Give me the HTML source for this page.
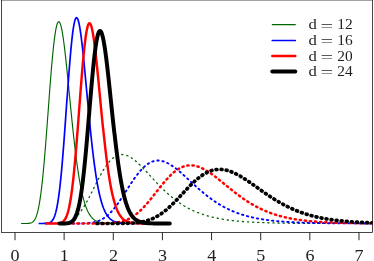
<!DOCTYPE html>
<html><head><meta charset="utf-8"><style>
html,body{margin:0;padding:0;background:#fff;}
svg{display:block;}
text{font-family:"Liberation Serif",serif;font-size:15.7px;fill:#1e1e1e;}
text.lg{font-size:15.4px;}
</style></head><body>
<svg width="374" height="261" viewBox="0 0 374 261">
<rect width="374" height="261" fill="#fff"/>
<defs><clipPath id="cp"><rect x="1.5" y="0" width="371" height="232.3"/></clipPath></defs>
<g clip-path="url(#cp)">
<path d="M21.5,223.50 L22.0,223.50 L22.5,223.50 L23.0,223.50 L23.5,223.50 L24.0,223.50 L24.5,223.50 L25.0,223.50 L25.5,223.49 L26.0,223.49 L26.5,223.48 L27.0,223.47 L27.5,223.45 L28.0,223.42 L28.5,223.39 L29.0,223.34 L29.5,223.27 L30.0,223.18 L30.5,223.06 L31.0,222.91 L31.5,222.71 L32.0,222.46 L32.5,222.14 L33.0,221.75 L33.5,221.26 L34.0,220.68 L34.5,219.97 L35.0,219.13 L35.5,218.14 L36.0,216.97 L36.5,215.63 L37.0,214.07 L37.5,212.30 L38.0,210.29 L38.5,208.02 L39.0,205.49 L39.5,202.67 L40.0,199.57 L40.5,196.17 L41.0,192.47 L41.5,188.45 L42.0,184.14 L42.5,179.52 L43.0,174.61 L43.5,169.41 L44.0,163.94 L44.5,158.22 L45.0,152.27 L45.5,146.11 L46.0,139.78 L46.5,133.29 L47.0,126.68 L47.5,119.99 L48.0,113.24 L48.5,106.49 L49.0,99.77 L49.5,93.11 L50.0,86.55 L50.5,80.14 L51.0,73.91 L51.5,67.89 L52.0,62.13 L52.5,56.65 L53.0,51.49 L53.5,46.68 L54.0,42.24 L54.5,38.19 L55.0,34.56 L55.5,31.35 L56.0,28.59 L56.5,26.29 L57.0,24.45 L57.5,23.07 L58.0,22.16 L58.5,21.71 L59.0,21.71 L59.5,22.16 L60.0,23.05 L60.5,24.36 L61.0,26.07 L61.5,28.18 L62.0,30.65 L62.5,33.46 L63.0,36.60 L63.5,40.04 L64.0,43.76 L64.5,47.73 L65.0,51.92 L65.5,56.31 L66.0,60.88 L66.5,65.59 L67.0,70.43 L67.5,75.37 L68.0,80.38 L68.5,85.46 L69.0,90.56 L69.5,95.68 L70.0,100.79 L70.5,105.88 L71.0,110.92 L71.5,115.91 L72.0,120.83 L72.5,125.67 L73.0,130.41 L73.5,135.04 L74.0,139.56 L74.5,143.96 L75.0,148.23 L75.5,152.36 L76.0,156.36 L76.5,160.21 L77.0,163.92 L77.5,167.48 L78.0,170.90 L78.5,174.16 L79.0,177.29 L79.5,180.26 L80.0,183.09 L80.5,185.78 L81.0,188.33 L81.5,190.75 L82.0,193.03 L82.5,195.19 L83.0,197.22 L83.5,199.14 L84.0,200.94 L84.5,202.62 L85.0,204.21 L85.5,205.69 L86.0,207.07 L86.5,208.36 L87.0,209.57 L87.5,210.69 L88.0,211.73 L88.5,212.70 L89.0,213.60 L89.5,214.43 L90.0,215.20 L90.5,215.91 L91.0,216.57 L91.5,217.18 L92.0,217.74 L92.5,218.25 L93.0,218.72 L93.5,219.16 L94.0,219.55 L94.5,219.92 L95.0,220.25 L95.5,220.56 L96.0,220.83 L96.5,221.09 L97.0,221.32 L97.5,221.53 L98.0,221.72 L98.5,221.90 L99.0,222.06 L99.5,222.20 L100.0,222.33 L100.5,222.45 L101.0,222.56 L101.5,222.65 L102.0,222.74 L102.5,222.82 L103.0,222.89 L103.5,222.95 L104.0,223.01 L104.5,223.06 L105.0,223.11 L105.5,223.15 L106.0,223.19 L106.5,223.22 L107.0,223.25 L107.5,223.28 L108.0,223.31 L108.5,223.33 L109.0,223.35 L109.5,223.36 L110.0,223.38 L110.5,223.39 L111.0,223.41 L111.5,223.42 L112.0,223.43 L112.5,223.43 L113.0,223.44 L113.5,223.45 L114.0,223.46 L114.5,223.46 L115.0,223.47 L115.5,223.47 L116.0,223.47 L116.5,223.48 L117.0,223.48 L117.5,223.48 L118.0,223.48 L118.5,223.49 L119.0,223.49 L119.5,223.49 L120.0,223.49 L120.5,223.49 L121.0,223.49 L121.5,223.49 L122.0,223.49 L122.5,223.50 L123.0,223.50 L123.5,223.50 L124.0,223.50 L124.5,223.50 L125.0,223.50 L125.5,223.50 L126.0,223.50 L126.5,223.50 L127.0,223.50 L127.5,223.50 L128.0,223.50 L128.5,223.50 L129.0,223.50 L129.5,223.50 L130.0,223.50" stroke="#006400" stroke-width="1.15" fill="none" stroke-linejoin="round" stroke-linecap="round"/>
<path d="M45.0,223.50 L45.5,223.50 L46.0,223.50 L46.5,223.50 L47.0,223.50 L47.5,223.50 L48.0,223.50 L48.5,223.50 L49.0,223.50 L49.5,223.50 L50.0,223.50 L50.5,223.50 L51.0,223.50 L51.5,223.49 L52.0,223.49 L52.5,223.49 L53.0,223.49 L53.5,223.48 L54.0,223.48 L54.5,223.47 L55.0,223.47 L55.5,223.46 L56.0,223.45 L56.5,223.44 L57.0,223.43 L57.5,223.42 L58.0,223.40 L58.5,223.38 L59.0,223.36 L59.5,223.33 L60.0,223.30 L60.5,223.27 L61.0,223.23 L61.5,223.18 L62.0,223.13 L62.5,223.08 L63.0,223.02 L63.5,222.95 L64.0,222.87 L64.5,222.78 L65.0,222.69 L65.5,222.58 L66.0,222.47 L66.5,222.34 L67.0,222.20 L67.5,222.05 L68.0,221.88 L68.5,221.70 L69.0,221.51 L69.5,221.30 L70.0,221.08 L70.5,220.84 L71.0,220.58 L71.5,220.30 L72.0,220.01 L72.5,219.69 L73.0,219.36 L73.5,219.01 L74.0,218.63 L74.5,218.24 L75.0,217.82 L75.5,217.39 L76.0,216.93 L76.5,216.45 L77.0,215.94 L77.5,215.42 L78.0,214.87 L78.5,214.30 L79.0,213.71 L79.5,213.09 L80.0,212.45 L80.5,211.79 L81.0,211.11 L81.5,210.41 L82.0,209.68 L82.5,208.94 L83.0,208.18 L83.5,207.39 L84.0,206.59 L84.5,205.77 L85.0,204.93 L85.5,204.07 L86.0,203.20 L86.5,202.31 L87.0,201.41 L87.5,200.49 L88.0,199.56 L88.5,198.62 L89.0,197.67 L89.5,196.70 L90.0,195.73 L90.5,194.75 L91.0,193.77 L91.5,192.77 L92.0,191.78 L92.5,190.78 L93.0,189.77 L93.5,188.77 L94.0,187.76 L94.5,186.75 L95.0,185.75 L95.5,184.75 L96.0,183.75 L96.5,182.76 L97.0,181.77 L97.5,180.79 L98.0,179.82 L98.5,178.85 L99.0,177.90 L99.5,176.95 L100.0,176.02 L100.5,175.10 L101.0,174.19 L101.5,173.30 L102.0,172.42 L102.5,171.56 L103.0,170.71 L103.5,169.88 L104.0,169.07 L104.5,168.28 L105.0,167.50 L105.5,166.75 L106.0,166.01 L106.5,165.30 L107.0,164.60 L107.5,163.93 L108.0,163.28 L108.5,162.65 L109.0,162.05 L109.5,161.46 L110.0,160.90 L110.5,160.37 L111.0,159.85 L111.5,159.36 L112.0,158.90 L112.5,158.45 L113.0,158.03 L113.5,157.64 L114.0,157.27 L114.5,156.92 L115.0,156.60 L115.5,156.30 L116.0,156.02 L116.5,155.77 L117.0,155.54 L117.5,155.34 L118.0,155.16 L118.5,155.00 L119.0,154.86 L119.5,154.75 L120.0,154.66 L120.5,154.59 L121.0,154.54 L121.5,154.52 L122.0,154.51 L122.5,154.53 L123.0,154.56 L123.5,154.62 L124.0,154.69 L124.5,154.79 L125.0,154.90 L125.5,155.04 L126.0,155.19 L126.5,155.36 L127.0,155.54 L127.5,155.74 L128.0,155.96 L128.5,156.20 L129.0,156.45 L129.5,156.72 L130.0,157.00 L130.5,157.29 L131.0,157.60 L131.5,157.92 L132.0,158.26 L132.5,158.61 L133.0,158.97 L133.5,159.34 L134.0,159.72 L134.5,160.12 L135.0,160.52 L135.5,160.93 L136.0,161.36 L136.5,161.79 L137.0,162.23 L137.5,162.68 L138.0,163.14 L138.5,163.61 L139.0,164.08 L139.5,164.56 L140.0,165.05 L140.5,165.54 L141.0,166.04 L141.5,166.54 L142.0,167.05 L142.5,167.56 L143.0,168.08 L143.5,168.60 L144.0,169.12 L144.5,169.65 L145.0,170.18 L145.5,170.71 L146.0,171.25 L146.5,171.79 L147.0,172.32 L147.5,172.87 L148.0,173.41 L148.5,173.95 L149.0,174.49 L149.5,175.04 L150.0,175.58 L150.5,176.13 L151.0,176.67 L151.5,177.22 L152.0,177.76 L152.5,178.30 L153.0,178.84 L153.5,179.38 L154.0,179.92 L154.5,180.46 L155.0,180.99 L155.5,181.53 L156.0,182.06 L156.5,182.59 L157.0,183.11 L157.5,183.64 L158.0,184.16 L158.5,184.68 L159.0,185.19 L159.5,185.71 L160.0,186.21 L160.5,186.72 L161.0,187.22 L161.5,187.72 L162.0,188.22 L162.5,188.71 L163.0,189.20 L163.5,189.68 L164.0,190.16 L164.5,190.64 L165.0,191.11 L165.5,191.58 L166.0,192.04 L166.5,192.50 L167.0,192.96 L167.5,193.41 L168.0,193.86 L168.5,194.30 L169.0,194.74 L169.5,195.17 L170.0,195.60 L170.5,196.02 L171.0,196.44 L171.5,196.86 L172.0,197.27 L172.5,197.68 L173.0,198.08 L173.5,198.48 L174.0,198.87 L174.5,199.26 L175.0,199.64 L175.5,200.02 L176.0,200.40 L176.5,200.77 L177.0,201.13 L177.5,201.49 L178.0,201.85 L178.5,202.20 L179.0,202.55 L179.5,202.89 L180.0,203.23 L180.5,203.56 L181.0,203.89 L181.5,204.22 L182.0,204.54 L182.5,204.85 L183.0,205.16 L183.5,205.47 L184.0,205.78 L184.5,206.07 L185.0,206.37 L185.5,206.66 L186.0,206.95 L186.5,207.23 L187.0,207.51 L187.5,207.78 L188.0,208.05 L188.5,208.32 L189.0,208.58 L189.5,208.84 L190.0,209.09 L190.5,209.34 L191.0,209.59 L191.5,209.83 L192.0,210.07 L192.5,210.31 L193.0,210.54 L193.5,210.77 L194.0,210.99 L194.5,211.22 L195.0,211.43 L195.5,211.65 L196.0,211.86 L196.5,212.07 L197.0,212.27 L197.5,212.47 L198.0,212.67 L198.5,212.86 L199.0,213.06 L199.5,213.24 L200.0,213.43 L200.5,213.61 L201.0,213.79 L201.5,213.97 L202.0,214.14 L202.5,214.31 L203.0,214.48 L203.5,214.64 L204.0,214.80 L204.5,214.96 L205.0,215.12 L205.5,215.27 L206.0,215.43 L206.5,215.57 L207.0,215.72 L207.5,215.86 L208.0,216.00 L208.5,216.14 L209.0,216.28 L209.5,216.41 L210.0,216.55 L210.5,216.67 L211.0,216.80 L211.5,216.93 L212.0,217.05 L212.5,217.17 L213.0,217.29 L213.5,217.40 L214.0,217.52 L214.5,217.63 L215.0,217.74 L215.5,217.85 L216.0,217.96 L216.5,218.06 L217.0,218.16 L217.5,218.26 L218.0,218.36 L218.5,218.46 L219.0,218.55 L219.5,218.65 L220.0,218.74 L220.5,218.83 L221.0,218.92 L221.5,219.01 L222.0,219.09 L222.5,219.17 L223.0,219.26 L223.5,219.34 L224.0,219.42 L224.5,219.50 L225.0,219.57 L225.5,219.65 L226.0,219.72 L226.5,219.79 L227.0,219.86 L227.5,219.93 L228.0,220.00 L228.5,220.07 L229.0,220.13 L229.5,220.20 L230.0,220.26 L230.5,220.32 L231.0,220.39 L231.5,220.44 L232.0,220.50 L232.5,220.56 L233.0,220.62 L233.5,220.67 L234.0,220.73 L234.5,220.78 L235.0,220.83 L235.5,220.89 L236.0,220.94 L236.5,220.99 L237.0,221.03 L237.5,221.08 L238.0,221.13 L238.5,221.17 L239.0,221.22 L239.5,221.26 L240.0,221.31 L240.5,221.35 L241.0,221.39 L241.5,221.43 L242.0,221.47 L242.5,221.51 L243.0,221.55 L243.5,221.59 L244.0,221.62 L244.5,221.66 L245.0,221.70 L245.5,221.73 L246.0,221.77 L246.5,221.80 L247.0,221.83 L247.5,221.86 L248.0,221.90 L248.5,221.93 L249.0,221.96 L249.5,221.99 L250.0,222.02 L250.5,222.05 L251.0,222.07 L251.5,222.10 L252.0,222.13 L252.5,222.16 L253.0,222.18 L253.5,222.21 L254.0,222.23 L254.5,222.26 L255.0,222.28 L255.5,222.31 L256.0,222.33 L256.5,222.35 L257.0,222.37 L257.5,222.40 L258.0,222.42 L258.5,222.44 L259.0,222.46 L259.5,222.48 L260.0,222.50 L260.5,222.52 L261.0,222.54 L261.5,222.56 L262.0,222.57 L262.5,222.59 L263.0,222.61 L263.5,222.63 L264.0,222.64 L264.5,222.66 L265.0,222.68 L265.5,222.69 L266.0,222.71 L266.5,222.72 L267.0,222.74 L267.5,222.75 L268.0,222.77 L268.5,222.78 L269.0,222.80 L269.5,222.81 L270.0,222.82 L270.5,222.84 L271.0,222.85 L271.5,222.86 L272.0,222.88 L272.5,222.89 L273.0,222.90 L273.5,222.91 L274.0,222.92 L274.5,222.93 L275.0,222.94 L275.5,222.96 L276.0,222.97 L276.5,222.98 L277.0,222.99 L277.5,223.00 L278.0,223.01 L278.5,223.02 L279.0,223.03 L279.5,223.03 L280.0,223.04 L280.5,223.05 L281.0,223.06 L281.5,223.07 L282.0,223.08 L282.5,223.09 L283.0,223.09 L283.5,223.10 L284.0,223.11 L284.5,223.12 L285.0,223.12 L285.5,223.13 L286.0,223.14 L286.5,223.15 L287.0,223.15 L287.5,223.16 L288.0,223.17 L288.5,223.17 L289.0,223.18 L289.5,223.19 L290.0,223.19 L290.5,223.20 L291.0,223.20 L291.5,223.21 L292.0,223.21 L292.5,223.22 L293.0,223.23 L293.5,223.23 L294.0,223.24 L294.5,223.24 L295.0,223.25 L295.5,223.25 L296.0,223.26 L296.5,223.26 L297.0,223.26 L297.5,223.27 L298.0,223.27 L298.5,223.28 L299.0,223.28 L299.5,223.29 L300.0,223.29 L300.5,223.29 L301.0,223.30 L301.5,223.30 L302.0,223.31 L302.5,223.31 L303.0,223.31 L303.5,223.32 L304.0,223.32 L304.5,223.32 L305.0,223.33 L305.5,223.33 L306.0,223.33 L306.5,223.34 L307.0,223.34 L307.5,223.34 L308.0,223.35 L308.5,223.35 L309.0,223.35 L309.5,223.35 L310.0,223.36 L310.5,223.36 L311.0,223.36 L311.5,223.37 L312.0,223.37 L312.5,223.37 L313.0,223.37 L313.5,223.38 L314.0,223.38 L314.5,223.38 L315.0,223.38 L315.5,223.38 L316.0,223.39 L316.5,223.39 L317.0,223.39 L317.5,223.39 L318.0,223.40 L318.5,223.40 L319.0,223.40 L319.5,223.40 L320.0,223.40 L320.5,223.40 L321.0,223.41 L321.5,223.41 L322.0,223.41 L322.5,223.41 L323.0,223.41 L323.5,223.42 L324.0,223.42 L324.5,223.42 L325.0,223.42 L325.5,223.42 L326.0,223.42 L326.5,223.42 L327.0,223.43 L327.5,223.43 L328.0,223.43 L328.5,223.43 L329.0,223.43 L329.5,223.43 L330.0,223.43 L330.5,223.43 L331.0,223.44 L331.5,223.44 L332.0,223.44 L332.5,223.44 L333.0,223.44 L333.5,223.44 L334.0,223.44 L334.5,223.44 L335.0,223.45 L335.5,223.45 L336.0,223.45 L336.5,223.45 L337.0,223.45 L337.5,223.45 L338.0,223.45 L338.5,223.45 L339.0,223.45 L339.5,223.45 L340.0,223.45 L340.5,223.46 L341.0,223.46 L341.5,223.46 L342.0,223.46 L342.5,223.46 L343.0,223.46 L343.5,223.46 L344.0,223.46 L344.5,223.46 L345.0,223.46 L345.5,223.46 L346.0,223.46 L346.5,223.46 L347.0,223.47 L347.5,223.47 L348.0,223.47 L348.5,223.47 L349.0,223.47 L349.5,223.47 L350.0,223.47 L350.5,223.47 L351.0,223.47 L351.5,223.47 L352.0,223.47 L352.5,223.47 L353.0,223.47 L353.5,223.47 L354.0,223.47 L354.5,223.47 L355.0,223.47 L355.5,223.47 L356.0,223.47 L356.5,223.48 L357.0,223.48 L357.5,223.48 L358.0,223.48 L358.5,223.48 L359.0,223.48 L359.5,223.48 L360.0,223.48 L360.5,223.48 L361.0,223.48 L361.5,223.48 L362.0,223.48 L362.5,223.48 L363.0,223.48 L363.5,223.48 L364.0,223.48 L364.5,223.48 L365.0,223.48 L365.5,223.48 L366.0,223.48 L366.5,223.48 L367.0,223.48 L367.5,223.48 L368.0,223.48 L368.5,223.48 L369.0,223.48 L369.5,223.48 L370.0,223.49 L370.5,223.49 L371.0,223.49 L371.5,223.49 L372.0,223.49 L372.5,223.49 L373.0,223.49 L373.5,223.49 L374.0,223.49" stroke="#006400" stroke-width="1.3" fill="none" stroke-dasharray="1.2 3.8999999999999995" stroke-linecap="round"/>
<path d="M39.3,223.50 L39.8,223.50 L40.3,223.50 L40.8,223.50 L41.3,223.50 L41.8,223.50 L42.3,223.50 L42.8,223.49 L43.3,223.49 L43.8,223.48 L44.3,223.47 L44.8,223.46 L45.3,223.45 L45.8,223.42 L46.3,223.39 L46.8,223.35 L47.3,223.29 L47.8,223.21 L48.3,223.12 L48.8,222.99 L49.3,222.82 L49.8,222.61 L50.3,222.35 L50.8,222.03 L51.3,221.63 L51.8,221.14 L52.3,220.55 L52.8,219.84 L53.3,219.00 L53.8,218.01 L54.3,216.84 L54.8,215.49 L55.3,213.93 L55.8,212.14 L56.3,210.11 L56.8,207.81 L57.3,205.24 L57.8,202.37 L58.3,199.20 L58.8,195.70 L59.3,191.89 L59.8,187.74 L60.3,183.26 L60.8,178.46 L61.3,173.33 L61.8,167.89 L62.3,162.16 L62.8,156.14 L63.3,149.87 L63.8,143.38 L64.3,136.68 L64.8,129.82 L65.3,122.83 L65.8,115.75 L66.3,108.62 L66.8,101.49 L67.4,94.40 L67.9,87.39 L68.4,80.51 L68.9,73.81 L69.4,67.32 L69.9,61.10 L70.4,55.17 L70.9,49.58 L71.4,44.36 L71.9,39.54 L72.4,35.15 L72.9,31.22 L73.4,27.77 L73.9,24.81 L74.4,22.35 L74.9,20.41 L75.4,18.98 L75.9,18.07 L76.4,17.68 L76.9,17.78 L77.4,18.39 L77.9,19.47 L78.4,21.02 L78.9,23.00 L79.4,25.41 L79.9,28.22 L80.4,31.40 L80.9,34.92 L81.4,38.75 L81.9,42.88 L82.4,47.26 L82.9,51.86 L83.4,56.66 L83.9,61.63 L84.4,66.74 L84.9,71.96 L85.4,77.27 L85.9,82.63 L86.4,88.03 L86.9,93.44 L87.4,98.83 L87.9,104.20 L88.4,109.51 L88.9,114.76 L89.4,119.92 L89.9,124.99 L90.4,129.94 L90.9,134.77 L91.4,139.48 L91.9,144.04 L92.4,148.46 L92.9,152.73 L93.4,156.85 L93.9,160.81 L94.4,164.61 L94.9,168.24 L95.4,171.72 L95.9,175.04 L96.4,178.20 L96.9,181.20 L97.4,184.05 L97.9,186.75 L98.4,189.30 L98.9,191.71 L99.4,193.99 L99.9,196.12 L100.4,198.14 L100.9,200.02 L101.4,201.79 L101.9,203.45 L102.4,205.00 L102.9,206.44 L103.4,207.79 L103.9,209.04 L104.4,210.21 L104.9,211.29 L105.4,212.30 L105.9,213.23 L106.4,214.09 L106.9,214.89 L107.4,215.62 L107.9,216.30 L108.4,216.93 L108.9,217.51 L109.4,218.04 L109.9,218.52 L110.4,218.97 L110.9,219.38 L111.4,219.76 L111.9,220.10 L112.4,220.41 L112.9,220.70 L113.4,220.96 L113.9,221.20 L114.4,221.42 L114.9,221.62 L115.4,221.80 L115.9,221.97 L116.4,222.12 L116.9,222.25 L117.4,222.37 L117.9,222.49 L118.4,222.59 L118.9,222.68 L119.4,222.76 L119.9,222.84 L120.4,222.90 L120.9,222.96 L121.4,223.02 L121.9,223.07 L122.5,223.11 L123.0,223.15 L123.5,223.19 L124.0,223.22 L124.5,223.25 L125.0,223.28 L125.5,223.30 L126.0,223.32 L126.5,223.34 L127.0,223.36 L127.5,223.37 L128.0,223.39 L128.5,223.40 L129.0,223.41 L129.5,223.42 L130.0,223.43 L130.5,223.44 L131.0,223.44 L131.5,223.45 L132.0,223.46 L132.5,223.46 L133.0,223.47 L133.5,223.47 L134.0,223.47 L134.5,223.48 L135.0,223.48 L135.5,223.48 L136.0,223.48 L136.5,223.49 L137.0,223.49 L137.5,223.49 L138.0,223.49 L138.5,223.49 L139.0,223.49 L139.5,223.49 L140.0,223.49 L140.5,223.49 L141.0,223.50 L141.5,223.50 L142.0,223.50 L142.5,223.50 L143.0,223.50 L143.5,223.50 L144.0,223.50 L144.5,223.50 L145.0,223.50 L145.5,223.50 L146.0,223.50 L146.5,223.50 L147.0,223.50 L147.5,223.50 L148.0,223.50 L148.5,223.50 L149.0,223.50 L149.5,223.50 L150.0,223.50" stroke="#0000ff" stroke-width="1.7" fill="none" stroke-linejoin="round" stroke-linecap="round"/>
<path d="M57.8,223.50 L58.3,223.50 L58.8,223.50 L59.3,223.50 L59.8,223.50 L60.3,223.50 L60.8,223.50 L61.3,223.50 L61.8,223.50 L62.3,223.50 L62.8,223.50 L63.3,223.50 L63.8,223.50 L64.3,223.50 L64.8,223.50 L65.3,223.50 L65.8,223.50 L66.3,223.50 L66.8,223.50 L67.3,223.50 L67.8,223.50 L68.3,223.50 L68.8,223.50 L69.3,223.50 L69.8,223.50 L70.3,223.50 L70.8,223.50 L71.3,223.50 L71.8,223.50 L72.3,223.50 L72.8,223.50 L73.3,223.50 L73.8,223.49 L74.3,223.49 L74.8,223.49 L75.3,223.49 L75.8,223.49 L76.3,223.49 L76.8,223.48 L77.3,223.48 L77.8,223.48 L78.3,223.47 L78.8,223.47 L79.3,223.46 L79.8,223.46 L80.3,223.45 L80.8,223.44 L81.3,223.43 L81.8,223.42 L82.3,223.41 L82.8,223.40 L83.3,223.38 L83.8,223.37 L84.3,223.35 L84.8,223.33 L85.3,223.30 L85.8,223.28 L86.3,223.25 L86.8,223.22 L87.3,223.18 L87.8,223.14 L88.3,223.10 L88.8,223.06 L89.3,223.01 L89.8,222.95 L90.3,222.89 L90.8,222.83 L91.3,222.76 L91.8,222.68 L92.3,222.60 L92.8,222.51 L93.3,222.41 L93.8,222.31 L94.3,222.20 L94.8,222.08 L95.3,221.96 L95.8,221.82 L96.3,221.68 L96.8,221.52 L97.3,221.36 L97.8,221.19 L98.3,221.00 L98.8,220.81 L99.3,220.61 L99.8,220.39 L100.3,220.16 L100.8,219.92 L101.3,219.67 L101.8,219.40 L102.3,219.13 L102.8,218.84 L103.3,218.53 L103.8,218.21 L104.3,217.88 L104.8,217.54 L105.3,217.18 L105.8,216.81 L106.3,216.42 L106.8,216.02 L107.3,215.60 L107.8,215.17 L108.3,214.72 L108.8,214.26 L109.3,213.79 L109.8,213.30 L110.3,212.80 L110.8,212.28 L111.3,211.75 L111.8,211.20 L112.3,210.64 L112.8,210.07 L113.3,209.48 L113.8,208.88 L114.3,208.27 L114.8,207.65 L115.3,207.01 L115.8,206.36 L116.3,205.70 L116.8,205.03 L117.3,204.35 L117.8,203.65 L118.3,202.95 L118.8,202.24 L119.3,201.52 L119.8,200.79 L120.3,200.05 L120.8,199.31 L121.3,198.55 L121.8,197.80 L122.3,197.03 L122.8,196.26 L123.3,195.49 L123.8,194.71 L124.3,193.93 L124.8,193.15 L125.3,192.37 L125.8,191.58 L126.3,190.79 L126.8,190.00 L127.3,189.22 L127.8,188.43 L128.3,187.64 L128.8,186.86 L129.3,186.08 L129.8,185.31 L130.3,184.53 L130.8,183.76 L131.3,183.00 L131.8,182.25 L132.3,181.49 L132.8,180.75 L133.3,180.02 L133.8,179.29 L134.3,178.57 L134.8,177.86 L135.3,177.16 L135.8,176.47 L136.3,175.79 L136.8,175.12 L137.4,174.46 L137.9,173.81 L138.4,173.18 L138.9,172.56 L139.4,171.95 L139.9,171.35 L140.4,170.77 L140.9,170.21 L141.4,169.65 L141.9,169.12 L142.4,168.59 L142.9,168.09 L143.4,167.60 L143.9,167.12 L144.4,166.66 L144.9,166.21 L145.4,165.79 L145.9,165.38 L146.4,164.98 L146.9,164.60 L147.4,164.24 L147.9,163.90 L148.4,163.57 L148.9,163.26 L149.4,162.96 L149.9,162.69 L150.4,162.43 L150.9,162.19 L151.4,161.96 L151.9,161.75 L152.4,161.56 L152.9,161.39 L153.4,161.23 L153.9,161.09 L154.4,160.96 L154.9,160.86 L155.4,160.77 L155.9,160.69 L156.4,160.63 L156.9,160.59 L157.4,160.56 L157.9,160.55 L158.4,160.55 L158.9,160.57 L159.4,160.61 L159.9,160.66 L160.4,160.72 L160.9,160.80 L161.4,160.89 L161.9,160.99 L162.4,161.11 L162.9,161.25 L163.4,161.39 L163.9,161.55 L164.4,161.72 L164.9,161.91 L165.4,162.10 L165.9,162.31 L166.4,162.53 L166.9,162.76 L167.4,163.01 L167.9,163.26 L168.4,163.52 L168.9,163.79 L169.4,164.08 L169.9,164.37 L170.4,164.67 L170.9,164.98 L171.4,165.30 L171.9,165.63 L172.4,165.97 L172.9,166.31 L173.4,166.66 L173.9,167.02 L174.4,167.39 L174.9,167.76 L175.4,168.14 L175.9,168.53 L176.4,168.92 L176.9,169.32 L177.4,169.72 L177.9,170.13 L178.4,170.54 L178.9,170.96 L179.4,171.38 L179.9,171.81 L180.4,172.24 L180.9,172.67 L181.4,173.11 L181.9,173.55 L182.4,173.99 L182.9,174.44 L183.4,174.89 L183.9,175.34 L184.4,175.79 L184.9,176.25 L185.4,176.71 L185.9,177.16 L186.4,177.62 L186.9,178.08 L187.4,178.54 L187.9,179.01 L188.4,179.47 L188.9,179.93 L189.4,180.40 L189.9,180.86 L190.4,181.32 L190.9,181.79 L191.4,182.25 L191.9,182.71 L192.4,183.17 L192.9,183.63 L193.4,184.09 L193.9,184.55 L194.4,185.00 L194.9,185.46 L195.4,185.91 L195.9,186.36 L196.4,186.82 L196.9,187.26 L197.4,187.71 L197.9,188.15 L198.4,188.60 L198.9,189.04 L199.4,189.47 L199.9,189.91 L200.4,190.34 L200.9,190.77 L201.4,191.20 L201.9,191.62 L202.4,192.04 L202.9,192.46 L203.4,192.88 L203.9,193.29 L204.4,193.70 L204.9,194.11 L205.4,194.51 L205.9,194.91 L206.4,195.31 L206.9,195.70 L207.4,196.09 L207.9,196.48 L208.4,196.86 L208.9,197.24 L209.4,197.62 L209.9,197.99 L210.4,198.36 L210.9,198.73 L211.4,199.09 L211.9,199.45 L212.4,199.80 L212.9,200.15 L213.4,200.50 L213.9,200.85 L214.4,201.19 L214.9,201.52 L215.4,201.86 L215.9,202.19 L216.4,202.51 L216.9,202.83 L217.4,203.15 L217.9,203.47 L218.4,203.78 L218.9,204.08 L219.4,204.39 L219.9,204.69 L220.4,204.98 L220.9,205.28 L221.4,205.57 L221.9,205.85 L222.4,206.13 L222.9,206.41 L223.4,206.69 L223.9,206.96 L224.4,207.23 L224.9,207.49 L225.4,207.75 L225.9,208.01 L226.4,208.26 L226.9,208.51 L227.4,208.76 L227.9,209.01 L228.4,209.25 L228.9,209.48 L229.4,209.72 L229.9,209.95 L230.4,210.18 L230.9,210.40 L231.4,210.62 L231.9,210.84 L232.4,211.05 L232.9,211.26 L233.4,211.47 L233.9,211.68 L234.4,211.88 L234.9,212.08 L235.4,212.28 L235.9,212.47 L236.4,212.66 L236.9,212.85 L237.4,213.03 L237.9,213.22 L238.4,213.40 L238.9,213.57 L239.4,213.75 L239.9,213.92 L240.4,214.09 L240.9,214.25 L241.4,214.42 L241.9,214.58 L242.4,214.73 L242.9,214.89 L243.4,215.04 L243.9,215.19 L244.4,215.34 L244.9,215.49 L245.4,215.63 L245.9,215.77 L246.4,215.91 L246.9,216.05 L247.4,216.18 L247.9,216.32 L248.4,216.45 L248.9,216.57 L249.4,216.70 L249.9,216.82 L250.4,216.95 L250.9,217.07 L251.4,217.18 L251.9,217.30 L252.4,217.41 L252.9,217.52 L253.4,217.63 L253.9,217.74 L254.4,217.85 L254.9,217.95 L255.4,218.06 L255.9,218.16 L256.4,218.26 L256.9,218.35 L257.4,218.45 L257.9,218.54 L258.4,218.64 L258.9,218.73 L259.4,218.82 L259.9,218.90 L260.4,218.99 L260.9,219.07 L261.4,219.16 L261.9,219.24 L262.4,219.32 L262.9,219.40 L263.4,219.48 L263.9,219.55 L264.4,219.63 L264.9,219.70 L265.4,219.77 L265.9,219.84 L266.4,219.91 L266.9,219.98 L267.4,220.05 L267.9,220.11 L268.4,220.18 L268.9,220.24 L269.4,220.30 L269.9,220.36 L270.4,220.42 L270.9,220.48 L271.4,220.54 L271.9,220.60 L272.4,220.65 L272.9,220.71 L273.4,220.76 L273.9,220.81 L274.4,220.87 L274.9,220.92 L275.4,220.97 L275.9,221.01 L276.4,221.06 L276.9,221.11 L277.4,221.16 L277.9,221.20 L278.4,221.25 L278.9,221.29 L279.4,221.33 L279.9,221.37 L280.4,221.42 L280.9,221.46 L281.4,221.50 L281.9,221.54 L282.4,221.57 L282.9,221.61 L283.4,221.65 L283.9,221.68 L284.4,221.72 L284.9,221.75 L285.4,221.79 L285.9,221.82 L286.4,221.85 L286.9,221.89 L287.4,221.92 L287.9,221.95 L288.4,221.98 L288.9,222.01 L289.4,222.04 L289.9,222.07 L290.4,222.10 L290.9,222.12 L291.4,222.15 L291.9,222.18 L292.4,222.20 L292.9,222.23 L293.4,222.25 L293.9,222.28 L294.4,222.30 L294.9,222.33 L295.5,222.35 L296.0,222.37 L296.5,222.39 L297.0,222.42 L297.5,222.44 L298.0,222.46 L298.5,222.48 L299.0,222.50 L299.5,222.52 L300.0,222.54 L300.5,222.56 L301.0,222.58 L301.5,222.59 L302.0,222.61 L302.5,222.63 L303.0,222.65 L303.5,222.66 L304.0,222.68 L304.5,222.70 L305.0,222.71 L305.5,222.73 L306.0,222.74 L306.5,222.76 L307.0,222.77 L307.5,222.79 L308.0,222.80 L308.5,222.82 L309.0,222.83 L309.5,222.84 L310.0,222.86 L310.5,222.87 L311.0,222.88 L311.5,222.89 L312.0,222.91 L312.5,222.92 L313.0,222.93 L313.5,222.94 L314.0,222.95 L314.5,222.96 L315.0,222.97 L315.5,222.98 L316.0,222.99 L316.5,223.00 L317.0,223.01 L317.5,223.02 L318.0,223.03 L318.5,223.04 L319.0,223.05 L319.5,223.06 L320.0,223.07 L320.5,223.08 L321.0,223.09 L321.5,223.09 L322.0,223.10 L322.5,223.11 L323.0,223.12 L323.5,223.13 L324.0,223.13 L324.5,223.14 L325.0,223.15 L325.5,223.15 L326.0,223.16 L326.5,223.17 L327.0,223.18 L327.5,223.18 L328.0,223.19 L328.5,223.19 L329.0,223.20 L329.5,223.21 L330.0,223.21 L330.5,223.22 L331.0,223.22 L331.5,223.23 L332.0,223.23 L332.5,223.24 L333.0,223.25 L333.5,223.25 L334.0,223.26 L334.5,223.26 L335.0,223.26 L335.5,223.27 L336.0,223.27 L336.5,223.28 L337.0,223.28 L337.5,223.29 L338.0,223.29 L338.5,223.30 L339.0,223.30 L339.5,223.30 L340.0,223.31 L340.5,223.31 L341.0,223.32 L341.5,223.32 L342.0,223.32 L342.5,223.33 L343.0,223.33 L343.5,223.33 L344.0,223.34 L344.5,223.34 L345.0,223.34 L345.5,223.35 L346.0,223.35 L346.5,223.35 L347.0,223.35 L347.5,223.36 L348.0,223.36 L348.5,223.36 L349.0,223.37 L349.5,223.37 L350.0,223.37 L350.5,223.37 L351.0,223.38 L351.5,223.38 L352.0,223.38 L352.5,223.38 L353.0,223.39 L353.5,223.39 L354.0,223.39 L354.5,223.39 L355.0,223.39 L355.5,223.40 L356.0,223.40 L356.5,223.40 L357.0,223.40 L357.5,223.40 L358.0,223.41 L358.5,223.41 L359.0,223.41 L359.5,223.41 L360.0,223.41 L360.5,223.42 L361.0,223.42 L361.5,223.42 L362.0,223.42 L362.5,223.42 L363.0,223.42 L363.5,223.43 L364.0,223.43 L364.5,223.43 L365.0,223.43 L365.5,223.43 L366.0,223.43 L366.5,223.43 L367.0,223.44 L367.5,223.44 L368.0,223.44 L368.5,223.44 L369.0,223.44 L369.5,223.44 L370.0,223.44 L370.5,223.44 L371.0,223.44 L371.5,223.45 L372.0,223.45 L372.5,223.45 L373.0,223.45 L373.5,223.45 L374.0,223.45" stroke="#0000ff" stroke-width="1.9" fill="none" stroke-dasharray="1.4 3.6999999999999997" stroke-linecap="round"/>
<path d="M46.2,223.50 L46.7,223.50 L47.2,223.50 L47.7,223.50 L48.2,223.50 L48.7,223.50 L49.2,223.50 L49.7,223.50 L50.2,223.50 L50.7,223.50 L51.2,223.50 L51.7,223.50 L52.2,223.50 L52.7,223.50 L53.2,223.49 L53.7,223.49 L54.2,223.49 L54.7,223.48 L55.2,223.47 L55.7,223.46 L56.2,223.45 L56.7,223.43 L57.2,223.40 L57.7,223.37 L58.2,223.32 L58.7,223.26 L59.2,223.19 L59.7,223.10 L60.2,222.98 L60.7,222.83 L61.2,222.64 L61.7,222.42 L62.2,222.14 L62.7,221.80 L63.2,221.40 L63.7,220.91 L64.2,220.34 L64.7,219.66 L65.3,218.86 L65.8,217.94 L66.3,216.87 L66.8,215.64 L67.3,214.23 L67.8,212.63 L68.3,210.83 L68.8,208.81 L69.3,206.55 L69.8,204.04 L70.3,201.27 L70.8,198.24 L71.3,194.92 L71.8,191.32 L72.3,187.43 L72.8,183.26 L73.3,178.79 L73.8,174.04 L74.3,169.02 L74.8,163.74 L75.3,158.20 L75.8,152.44 L76.3,146.46 L76.8,140.30 L77.3,133.98 L77.8,127.53 L78.3,120.98 L78.8,114.37 L79.3,107.74 L79.8,101.11 L80.3,94.53 L80.8,88.04 L81.3,81.67 L81.8,75.47 L82.3,69.48 L82.8,63.72 L83.3,58.24 L83.8,53.06 L84.3,48.23 L84.8,43.76 L85.3,39.68 L85.8,36.02 L86.3,32.80 L86.8,30.02 L87.3,27.71 L87.8,25.87 L88.3,24.50 L88.8,23.61 L89.3,23.20 L89.8,23.26 L90.3,23.78 L90.8,24.75 L91.3,26.16 L91.8,27.99 L92.3,30.22 L92.8,32.83 L93.3,35.80 L93.8,39.10 L94.3,42.71 L94.8,46.60 L95.3,50.75 L95.8,55.12 L96.3,59.70 L96.8,64.45 L97.3,69.34 L97.8,74.35 L98.3,79.46 L98.8,84.64 L99.3,89.86 L99.8,95.10 L100.3,100.34 L100.8,105.57 L101.3,110.75 L101.8,115.88 L102.3,120.94 L102.8,125.91 L103.4,130.78 L103.9,135.54 L104.4,140.18 L104.9,144.69 L105.4,149.06 L105.9,153.29 L106.4,157.38 L106.9,161.31 L107.4,165.08 L107.9,168.70 L108.4,172.17 L108.9,175.47 L109.4,178.63 L109.9,181.62 L110.4,184.47 L110.9,187.17 L111.4,189.72 L111.9,192.13 L112.4,194.40 L112.9,196.54 L113.4,198.55 L113.9,200.43 L114.4,202.20 L114.9,203.85 L115.4,205.40 L115.9,206.84 L116.4,208.18 L116.9,209.43 L117.4,210.59 L117.9,211.67 L118.4,212.67 L118.9,213.59 L119.4,214.44 L119.9,215.23 L120.4,215.96 L120.9,216.63 L121.4,217.24 L121.9,217.81 L122.4,218.33 L122.9,218.80 L123.4,219.24 L123.9,219.64 L124.4,220.00 L124.9,220.33 L125.4,220.64 L125.9,220.91 L126.4,221.16 L126.9,221.39 L127.4,221.60 L127.9,221.79 L128.4,221.96 L128.9,222.12 L129.4,222.26 L129.9,222.38 L130.4,222.50 L130.9,222.60 L131.4,222.70 L131.9,222.78 L132.4,222.86 L132.9,222.92 L133.4,222.99 L133.9,223.04 L134.4,223.09 L134.9,223.13 L135.4,223.17 L135.9,223.21 L136.4,223.24 L136.9,223.27 L137.4,223.30 L137.9,223.32 L138.4,223.34 L138.9,223.36 L139.4,223.37 L139.9,223.39 L140.4,223.40 L140.9,223.41 L141.5,223.42 L142.0,223.43 L142.5,223.44 L143.0,223.45 L143.5,223.45 L144.0,223.46 L144.5,223.46 L145.0,223.47 L145.5,223.47 L146.0,223.47 L146.5,223.48 L147.0,223.48 L147.5,223.48 L148.0,223.48 L148.5,223.49 L149.0,223.49 L149.5,223.49 L150.0,223.49 L150.5,223.49 L151.0,223.49 L151.5,223.49 L152.0,223.49 L152.5,223.50 L153.0,223.50 L153.5,223.50 L154.0,223.50 L154.5,223.50 L155.0,223.50 L155.5,223.50 L156.0,223.50 L156.5,223.50 L157.0,223.50 L157.5,223.50 L158.0,223.50 L158.5,223.50 L159.0,223.50 L159.5,223.50 L160.0,223.50" stroke="#ff0000" stroke-width="2.45" fill="none" stroke-linejoin="round" stroke-linecap="round"/>
<path d="M67.1,223.50 L67.6,223.50 L68.1,223.50 L68.6,223.50 L69.1,223.50 L69.6,223.50 L70.1,223.50 L70.6,223.50 L71.1,223.50 L71.6,223.50 L72.1,223.50 L72.6,223.50 L73.1,223.50 L73.6,223.50 L74.1,223.50 L74.6,223.50 L75.1,223.50 L75.6,223.50 L76.1,223.50 L76.6,223.50 L77.1,223.50 L77.6,223.50 L78.1,223.50 L78.6,223.50 L79.1,223.50 L79.6,223.50 L80.1,223.50 L80.6,223.50 L81.1,223.50 L81.6,223.50 L82.1,223.50 L82.6,223.50 L83.1,223.50 L83.6,223.50 L84.1,223.50 L84.6,223.50 L85.1,223.50 L85.6,223.50 L86.1,223.50 L86.6,223.50 L87.1,223.50 L87.6,223.50 L88.1,223.50 L88.6,223.50 L89.1,223.50 L89.6,223.50 L90.1,223.50 L90.6,223.50 L91.1,223.50 L91.6,223.50 L92.1,223.50 L92.6,223.50 L93.1,223.49 L93.6,223.49 L94.1,223.49 L94.6,223.49 L95.1,223.49 L95.6,223.49 L96.1,223.49 L96.6,223.48 L97.1,223.48 L97.6,223.48 L98.1,223.48 L98.6,223.47 L99.1,223.47 L99.6,223.47 L100.1,223.46 L100.6,223.46 L101.1,223.45 L101.6,223.44 L102.1,223.44 L102.6,223.43 L103.1,223.42 L103.6,223.41 L104.1,223.40 L104.6,223.39 L105.1,223.38 L105.7,223.36 L106.2,223.35 L106.7,223.33 L107.2,223.31 L107.7,223.29 L108.2,223.27 L108.7,223.25 L109.2,223.22 L109.7,223.19 L110.2,223.16 L110.7,223.13 L111.2,223.10 L111.7,223.06 L112.2,223.02 L112.7,222.98 L113.2,222.93 L113.7,222.88 L114.2,222.83 L114.7,222.77 L115.2,222.71 L115.7,222.65 L116.2,222.58 L116.7,222.50 L117.2,222.43 L117.7,222.34 L118.2,222.25 L118.7,222.16 L119.2,222.06 L119.7,221.96 L120.2,221.85 L120.7,221.73 L121.2,221.61 L121.7,221.48 L122.2,221.35 L122.7,221.20 L123.2,221.05 L123.7,220.90 L124.2,220.73 L124.7,220.56 L125.2,220.38 L125.7,220.20 L126.2,220.00 L126.7,219.80 L127.2,219.58 L127.7,219.36 L128.2,219.13 L128.7,218.89 L129.2,218.64 L129.7,218.39 L130.2,218.12 L130.7,217.84 L131.2,217.56 L131.7,217.26 L132.2,216.96 L132.7,216.64 L133.2,216.32 L133.7,215.98 L134.2,215.64 L134.7,215.28 L135.2,214.91 L135.7,214.54 L136.2,214.15 L136.7,213.76 L137.2,213.35 L137.7,212.94 L138.2,212.51 L138.7,212.08 L139.2,211.63 L139.7,211.18 L140.2,210.71 L140.7,210.24 L141.2,209.76 L141.7,209.27 L142.2,208.77 L142.7,208.26 L143.2,207.74 L143.7,207.21 L144.2,206.68 L144.7,206.14 L145.2,205.59 L145.7,205.03 L146.2,204.46 L146.7,203.89 L147.2,203.31 L147.7,202.73 L148.2,202.14 L148.7,201.54 L149.2,200.94 L149.7,200.33 L150.2,199.72 L150.7,199.11 L151.2,198.49 L151.7,197.86 L152.2,197.24 L152.7,196.60 L153.2,195.97 L153.7,195.34 L154.2,194.70 L154.7,194.06 L155.2,193.42 L155.7,192.78 L156.2,192.14 L156.7,191.50 L157.2,190.86 L157.7,190.22 L158.2,189.58 L158.7,188.95 L159.2,188.31 L159.7,187.68 L160.2,187.05 L160.7,186.43 L161.2,185.80 L161.7,185.18 L162.2,184.57 L162.7,183.96 L163.2,183.36 L163.7,182.76 L164.2,182.17 L164.7,181.58 L165.2,181.00 L165.7,180.42 L166.2,179.86 L166.7,179.30 L167.2,178.75 L167.7,178.21 L168.2,177.67 L168.7,177.14 L169.2,176.63 L169.7,176.12 L170.2,175.62 L170.7,175.13 L171.2,174.66 L171.7,174.19 L172.2,173.73 L172.7,173.28 L173.2,172.85 L173.7,172.42 L174.2,172.01 L174.7,171.61 L175.2,171.22 L175.7,170.84 L176.2,170.47 L176.7,170.12 L177.2,169.77 L177.7,169.44 L178.2,169.13 L178.7,168.82 L179.2,168.53 L179.7,168.25 L180.2,167.98 L180.7,167.73 L181.2,167.49 L181.7,167.26 L182.3,167.04 L182.8,166.84 L183.3,166.65 L183.8,166.47 L184.3,166.31 L184.8,166.16 L185.3,166.02 L185.8,165.90 L186.3,165.78 L186.8,165.68 L187.3,165.60 L187.8,165.52 L188.3,165.46 L188.8,165.41 L189.3,165.38 L189.8,165.35 L190.3,165.34 L190.8,165.34 L191.3,165.35 L191.8,165.38 L192.3,165.41 L192.8,165.46 L193.3,165.52 L193.8,165.59 L194.3,165.67 L194.8,165.76 L195.3,165.86 L195.8,165.98 L196.3,166.10 L196.8,166.24 L197.3,166.38 L197.8,166.53 L198.3,166.70 L198.8,166.87 L199.3,167.06 L199.8,167.25 L200.3,167.45 L200.8,167.66 L201.3,167.88 L201.8,168.11 L202.3,168.35 L202.8,168.59 L203.3,168.84 L203.8,169.10 L204.3,169.37 L204.8,169.64 L205.3,169.93 L205.8,170.21 L206.3,170.51 L206.8,170.81 L207.3,171.12 L207.8,171.43 L208.3,171.75 L208.8,172.08 L209.3,172.41 L209.8,172.75 L210.3,173.09 L210.8,173.43 L211.3,173.78 L211.8,174.14 L212.3,174.50 L212.8,174.86 L213.3,175.23 L213.8,175.60 L214.3,175.98 L214.8,176.35 L215.3,176.73 L215.8,177.12 L216.3,177.51 L216.8,177.90 L217.3,178.29 L217.8,178.68 L218.3,179.08 L218.8,179.48 L219.3,179.88 L219.8,180.28 L220.3,180.68 L220.8,181.09 L221.3,181.49 L221.8,181.90 L222.3,182.31 L222.8,182.71 L223.3,183.12 L223.8,183.53 L224.3,183.94 L224.8,184.35 L225.3,184.76 L225.8,185.17 L226.3,185.58 L226.8,185.99 L227.3,186.40 L227.8,186.80 L228.3,187.21 L228.8,187.62 L229.3,188.02 L229.8,188.43 L230.3,188.83 L230.8,189.23 L231.3,189.64 L231.8,190.03 L232.3,190.43 L232.8,190.83 L233.3,191.22 L233.8,191.62 L234.3,192.01 L234.8,192.40 L235.3,192.78 L235.8,193.17 L236.3,193.55 L236.8,193.93 L237.3,194.31 L237.8,194.69 L238.3,195.06 L238.8,195.44 L239.3,195.80 L239.8,196.17 L240.3,196.54 L240.8,196.90 L241.3,197.26 L241.8,197.61 L242.3,197.97 L242.8,198.32 L243.3,198.66 L243.8,199.01 L244.3,199.35 L244.8,199.69 L245.3,200.03 L245.8,200.36 L246.3,200.69 L246.8,201.02 L247.3,201.34 L247.8,201.66 L248.3,201.98 L248.8,202.30 L249.3,202.61 L249.8,202.92 L250.3,203.22 L250.8,203.53 L251.3,203.83 L251.8,204.12 L252.3,204.41 L252.8,204.70 L253.3,204.99 L253.8,205.28 L254.3,205.56 L254.8,205.83 L255.3,206.11 L255.8,206.38 L256.3,206.65 L256.8,206.91 L257.3,207.17 L257.8,207.43 L258.3,207.69 L258.8,207.94 L259.4,208.19 L259.9,208.44 L260.4,208.68 L260.9,208.92 L261.4,209.16 L261.9,209.39 L262.4,209.62 L262.9,209.85 L263.4,210.07 L263.9,210.30 L264.4,210.52 L264.9,210.73 L265.4,210.95 L265.9,211.16 L266.4,211.36 L266.9,211.57 L267.4,211.77 L267.9,211.97 L268.4,212.17 L268.9,212.36 L269.4,212.55 L269.9,212.74 L270.4,212.92 L270.9,213.11 L271.4,213.29 L271.9,213.46 L272.4,213.64 L272.9,213.81 L273.4,213.98 L273.9,214.15 L274.4,214.31 L274.9,214.47 L275.4,214.63 L275.9,214.79 L276.4,214.95 L276.9,215.10 L277.4,215.25 L277.9,215.40 L278.4,215.54 L278.9,215.69 L279.4,215.83 L279.9,215.97 L280.4,216.10 L280.9,216.24 L281.4,216.37 L281.9,216.50 L282.4,216.63 L282.9,216.75 L283.4,216.88 L283.9,217.00 L284.4,217.12 L284.9,217.24 L285.4,217.36 L285.9,217.47 L286.4,217.58 L286.9,217.69 L287.4,217.80 L287.9,217.91 L288.4,218.01 L288.9,218.12 L289.4,218.22 L289.9,218.32 L290.4,218.41 L290.9,218.51 L291.4,218.61 L291.9,218.70 L292.4,218.79 L292.9,218.88 L293.4,218.97 L293.9,219.06 L294.4,219.14 L294.9,219.22 L295.4,219.31 L295.9,219.39 L296.4,219.47 L296.9,219.55 L297.4,219.62 L297.9,219.70 L298.4,219.77 L298.9,219.84 L299.4,219.92 L299.9,219.99 L300.4,220.05 L300.9,220.12 L301.4,220.19 L301.9,220.25 L302.4,220.32 L302.9,220.38 L303.4,220.44 L303.9,220.50 L304.4,220.56 L304.9,220.62 L305.4,220.68 L305.9,220.73 L306.4,220.79 L306.9,220.84 L307.4,220.89 L307.9,220.95 L308.4,221.00 L308.9,221.05 L309.4,221.10 L309.9,221.15 L310.4,221.19 L310.9,221.24 L311.4,221.28 L311.9,221.33 L312.4,221.37 L312.9,221.42 L313.4,221.46 L313.9,221.50 L314.4,221.54 L314.9,221.58 L315.4,221.62 L315.9,221.66 L316.4,221.70 L316.9,221.73 L317.4,221.77 L317.9,221.80 L318.4,221.84 L318.9,221.87 L319.4,221.91 L319.9,221.94 L320.4,221.97 L320.9,222.00 L321.4,222.03 L321.9,222.06 L322.4,222.09 L322.9,222.12 L323.4,222.15 L323.9,222.18 L324.4,222.21 L324.9,222.23 L325.4,222.26 L325.9,222.28 L326.4,222.31 L326.9,222.33 L327.4,222.36 L327.9,222.38 L328.4,222.41 L328.9,222.43 L329.4,222.45 L329.9,222.47 L330.4,222.50 L330.9,222.52 L331.4,222.54 L331.9,222.56 L332.4,222.58 L332.9,222.60 L333.4,222.62 L333.9,222.63 L334.4,222.65 L334.9,222.67 L335.4,222.69 L336.0,222.70 L336.5,222.72 L337.0,222.74 L337.5,222.75 L338.0,222.77 L338.5,222.79 L339.0,222.80 L339.5,222.82 L340.0,222.83 L340.5,222.84 L341.0,222.86 L341.5,222.87 L342.0,222.89 L342.5,222.90 L343.0,222.91 L343.5,222.92 L344.0,222.94 L344.5,222.95 L345.0,222.96 L345.5,222.97 L346.0,222.98 L346.5,222.99 L347.0,223.00 L347.5,223.02 L348.0,223.03 L348.5,223.04 L349.0,223.05 L349.5,223.06 L350.0,223.07 L350.5,223.07 L351.0,223.08 L351.5,223.09 L352.0,223.10 L352.5,223.11 L353.0,223.12 L353.5,223.13 L354.0,223.13 L354.5,223.14 L355.0,223.15 L355.5,223.16 L356.0,223.17 L356.5,223.17 L357.0,223.18 L357.5,223.19 L358.0,223.19 L358.5,223.20 L359.0,223.21 L359.5,223.21 L360.0,223.22 L360.5,223.23 L361.0,223.23 L361.5,223.24 L362.0,223.24 L362.5,223.25 L363.0,223.25 L363.5,223.26 L364.0,223.26 L364.5,223.27 L365.0,223.27 L365.5,223.28 L366.0,223.28 L366.5,223.29 L367.0,223.29 L367.5,223.30 L368.0,223.30 L368.5,223.31 L369.0,223.31 L369.5,223.32 L370.0,223.32 L370.5,223.32 L371.0,223.33 L371.5,223.33 L372.0,223.33 L372.5,223.34 L373.0,223.34 L373.5,223.35 L374.0,223.35" stroke="#ff0000" stroke-width="2.5" fill="none" stroke-dasharray="1.25 3.8499999999999996" stroke-linecap="round"/>
<path d="M59.5,223.50 L60.0,223.50 L60.5,223.50 L61.0,223.50 L61.5,223.49 L62.0,223.49 L62.5,223.49 L63.0,223.48 L63.5,223.47 L64.0,223.46 L64.5,223.45 L65.0,223.43 L65.5,223.41 L66.0,223.38 L66.5,223.35 L67.0,223.30 L67.5,223.24 L68.0,223.17 L68.5,223.08 L69.0,222.96 L69.5,222.83 L70.0,222.66 L70.5,222.45 L71.0,222.20 L71.5,221.91 L72.0,221.55 L72.5,221.14 L73.0,220.65 L73.5,220.07 L74.0,219.41 L74.5,218.64 L75.0,217.75 L75.5,216.74 L76.0,215.59 L76.5,214.29 L77.0,212.82 L77.5,211.18 L78.1,209.36 L78.6,207.33 L79.1,205.10 L79.6,202.64 L80.1,199.96 L80.6,197.05 L81.1,193.89 L81.6,190.49 L82.1,186.84 L82.6,182.95 L83.1,178.82 L83.6,174.44 L84.1,169.83 L84.6,165.00 L85.1,159.96 L85.6,154.72 L86.1,149.31 L86.6,143.73 L87.1,138.02 L87.6,132.19 L88.1,126.27 L88.6,120.28 L89.1,114.27 L89.6,108.25 L90.1,102.26 L90.6,96.33 L91.1,90.48 L91.6,84.76 L92.1,79.19 L92.6,73.81 L93.1,68.64 L93.6,63.71 L94.1,59.05 L94.6,54.69 L95.1,50.64 L95.6,46.93 L96.1,43.58 L96.6,40.60 L97.1,38.01 L97.6,35.82 L98.1,34.03 L98.6,32.65 L99.1,31.69 L99.6,31.14 L100.1,31.00 L100.6,31.27 L101.1,31.93 L101.6,32.98 L102.1,34.41 L102.6,36.20 L103.1,38.33 L103.6,40.79 L104.1,43.56 L104.6,46.62 L105.1,49.94 L105.6,53.52 L106.1,57.31 L106.6,61.31 L107.1,65.48 L107.6,69.81 L108.1,74.28 L108.6,78.85 L109.1,83.51 L109.6,88.25 L110.1,93.03 L110.6,97.83 L111.1,102.65 L111.6,107.46 L112.1,112.25 L112.6,117.00 L113.1,121.69 L113.6,126.32 L114.1,130.87 L114.7,135.33 L115.2,139.69 L115.7,143.95 L116.2,148.09 L116.7,152.11 L117.2,156.01 L117.7,159.77 L118.2,163.40 L118.7,166.90 L119.2,170.26 L119.7,173.48 L120.2,176.56 L120.7,179.51 L121.2,182.32 L121.7,184.99 L122.2,187.53 L122.7,189.95 L123.2,192.23 L123.7,194.40 L124.2,196.44 L124.7,198.36 L125.2,200.18 L125.7,201.88 L126.2,203.49 L126.7,204.99 L127.2,206.39 L127.7,207.71 L128.2,208.94 L128.7,210.08 L129.2,211.15 L129.7,212.15 L130.2,213.07 L130.7,213.93 L131.2,214.72 L131.7,215.46 L132.2,216.14 L132.7,216.77 L133.2,217.35 L133.7,217.88 L134.2,218.38 L134.7,218.83 L135.2,219.25 L135.7,219.63 L136.2,219.98 L136.7,220.31 L137.2,220.60 L137.7,220.87 L138.2,221.12 L138.7,221.34 L139.2,221.55 L139.7,221.73 L140.2,221.90 L140.7,222.06 L141.2,222.20 L141.7,222.33 L142.2,222.44 L142.7,222.55 L143.2,222.64 L143.7,222.73 L144.2,222.81 L144.7,222.88 L145.2,222.94 L145.7,223.00 L146.2,223.05 L146.7,223.10 L147.2,223.14 L147.7,223.18 L148.2,223.21 L148.7,223.24 L149.2,223.27 L149.7,223.30 L150.2,223.32 L150.7,223.34 L151.2,223.36 L151.8,223.37 L152.3,223.39 L152.8,223.40 L153.3,223.41 L153.8,223.42 L154.3,223.43 L154.8,223.44 L155.3,223.44 L155.8,223.45 L156.3,223.46 L156.8,223.46 L157.3,223.47 L157.8,223.47 L158.3,223.47 L158.8,223.48 L159.3,223.48 L159.8,223.48 L160.3,223.48 L160.8,223.49 L161.3,223.49 L161.8,223.49 L162.3,223.49 L162.8,223.49 L163.3,223.49 L163.8,223.49 L164.3,223.49 L164.8,223.49 L165.3,223.50 L165.8,223.50 L166.3,223.50 L166.8,223.50 L167.3,223.50 L167.8,223.50 L168.3,223.50 L168.8,223.50 L169.3,223.50 L169.8,223.50" stroke="#000000" stroke-width="3.95" fill="none" stroke-linejoin="round" stroke-linecap="round"/>
<path d="M96.9,223.50 L97.4,223.50 L97.9,223.50 L98.4,223.50 L98.9,223.50 L99.4,223.50 L99.9,223.50 L100.4,223.50 L100.9,223.50 L101.4,223.50 L101.9,223.50 L102.4,223.50 L102.9,223.50 L103.4,223.50 L103.9,223.50 L104.4,223.50 L104.9,223.50 L105.4,223.50 L105.9,223.50 L106.4,223.50 L106.9,223.50 L107.4,223.50 L107.9,223.50 L108.4,223.50 L108.9,223.50 L109.4,223.50 L109.9,223.50 L110.4,223.50 L110.9,223.49 L111.4,223.49 L111.9,223.49 L112.4,223.49 L112.9,223.49 L113.4,223.49 L113.9,223.49 L114.4,223.49 L114.9,223.48 L115.4,223.48 L115.9,223.48 L116.4,223.48 L116.9,223.48 L117.4,223.47 L117.9,223.47 L118.4,223.47 L118.9,223.46 L119.4,223.46 L119.9,223.45 L120.4,223.45 L120.9,223.44 L121.4,223.44 L121.9,223.43 L122.4,223.42 L122.9,223.41 L123.4,223.40 L123.9,223.40 L124.4,223.39 L124.9,223.37 L125.4,223.36 L125.9,223.35 L126.4,223.33 L126.9,223.32 L127.4,223.30 L127.9,223.29 L128.4,223.27 L128.9,223.25 L129.4,223.22 L129.9,223.20 L130.4,223.18 L130.9,223.15 L131.4,223.12 L131.9,223.09 L132.4,223.06 L132.9,223.02 L133.4,222.98 L133.9,222.95 L134.4,222.90 L134.9,222.86 L135.4,222.81 L135.9,222.76 L136.4,222.71 L136.9,222.65 L137.4,222.59 L137.9,222.53 L138.4,222.47 L138.9,222.40 L139.4,222.32 L139.9,222.25 L140.4,222.17 L140.9,222.08 L141.4,221.99 L141.9,221.90 L142.4,221.80 L142.9,221.70 L143.4,221.59 L143.9,221.48 L144.4,221.36 L144.9,221.24 L145.4,221.11 L145.9,220.98 L146.4,220.84 L146.9,220.69 L147.4,220.54 L147.9,220.39 L148.4,220.22 L148.9,220.06 L149.4,219.88 L149.9,219.70 L150.4,219.51 L150.9,219.32 L151.4,219.12 L151.9,218.91 L152.4,218.70 L152.9,218.48 L153.4,218.25 L153.9,218.01 L154.4,217.77 L154.9,217.52 L155.4,217.26 L155.9,217.00 L156.4,216.72 L156.9,216.45 L157.4,216.16 L157.9,215.86 L158.4,215.56 L158.9,215.25 L159.4,214.94 L159.9,214.61 L160.4,214.28 L160.9,213.94 L161.4,213.59 L161.9,213.24 L162.4,212.88 L162.9,212.51 L163.4,212.13 L163.9,211.75 L164.4,211.36 L164.9,210.96 L165.4,210.56 L165.9,210.15 L166.4,209.73 L166.9,209.30 L167.4,208.87 L167.9,208.43 L168.4,207.99 L168.9,207.54 L169.4,207.08 L169.9,206.62 L170.4,206.16 L170.9,205.68 L171.4,205.21 L171.9,204.72 L172.4,204.23 L172.9,203.74 L173.4,203.24 L173.9,202.74 L174.4,202.24 L174.9,201.73 L175.4,201.21 L175.9,200.70 L176.4,200.18 L176.9,199.66 L177.4,199.13 L177.9,198.60 L178.4,198.07 L178.9,197.54 L179.4,197.01 L179.9,196.47 L180.4,195.94 L180.9,195.40 L181.4,194.86 L181.9,194.32 L182.4,193.79 L182.9,193.25 L183.4,192.71 L183.9,192.17 L184.4,191.64 L184.9,191.10 L185.4,190.57 L185.9,190.04 L186.4,189.51 L186.9,188.98 L187.4,188.46 L187.9,187.94 L188.4,187.42 L188.9,186.91 L189.4,186.40 L189.9,185.89 L190.4,185.39 L190.9,184.89 L191.4,184.39 L191.9,183.90 L192.4,183.42 L192.9,182.94 L193.4,182.47 L193.9,182.00 L194.4,181.54 L194.9,181.08 L195.4,180.64 L195.9,180.19 L196.4,179.76 L196.9,179.33 L197.4,178.91 L197.9,178.50 L198.4,178.09 L198.9,177.69 L199.4,177.30 L199.9,176.92 L200.4,176.55 L200.9,176.18 L201.4,175.83 L201.9,175.48 L202.4,175.14 L202.9,174.81 L203.4,174.49 L203.9,174.18 L204.4,173.88 L204.9,173.58 L205.4,173.30 L205.9,173.03 L206.4,172.76 L206.9,172.51 L207.4,172.26 L207.9,172.03 L208.4,171.80 L208.9,171.59 L209.4,171.38 L209.9,171.19 L210.4,171.00 L210.9,170.83 L211.4,170.66 L211.9,170.51 L212.4,170.36 L212.9,170.23 L213.4,170.10 L213.9,169.99 L214.4,169.88 L214.9,169.79 L215.4,169.70 L215.9,169.63 L216.4,169.56 L216.9,169.51 L217.4,169.46 L217.9,169.43 L218.4,169.40 L218.9,169.39 L219.4,169.38 L219.9,169.39 L220.4,169.40 L220.9,169.42 L221.4,169.45 L221.9,169.49 L222.4,169.54 L222.9,169.60 L223.4,169.67 L223.9,169.74 L224.4,169.83 L224.9,169.92 L225.4,170.02 L225.9,170.13 L226.4,170.25 L226.9,170.37 L227.4,170.51 L227.9,170.65 L228.4,170.80 L228.9,170.96 L229.4,171.12 L229.9,171.29 L230.4,171.47 L230.9,171.66 L231.4,171.85 L231.9,172.05 L232.4,172.25 L232.9,172.47 L233.4,172.68 L233.9,172.91 L234.4,173.14 L234.9,173.38 L235.5,173.62 L236.0,173.87 L236.5,174.12 L237.0,174.38 L237.5,174.64 L238.0,174.91 L238.5,175.18 L239.0,175.46 L239.5,175.74 L240.0,176.03 L240.5,176.32 L241.0,176.62 L241.5,176.92 L242.0,177.22 L242.5,177.53 L243.0,177.84 L243.5,178.15 L244.0,178.47 L244.5,178.79 L245.0,179.11 L245.5,179.44 L246.0,179.77 L246.5,180.10 L247.0,180.43 L247.5,180.77 L248.0,181.10 L248.5,181.44 L249.0,181.79 L249.5,182.13 L250.0,182.47 L250.5,182.82 L251.0,183.17 L251.5,183.52 L252.0,183.87 L252.5,184.22 L253.0,184.57 L253.5,184.93 L254.0,185.28 L254.5,185.64 L255.0,185.99 L255.5,186.35 L256.0,186.70 L256.5,187.06 L257.0,187.42 L257.5,187.77 L258.0,188.13 L258.5,188.49 L259.0,188.84 L259.5,189.20 L260.0,189.55 L260.5,189.91 L261.0,190.26 L261.5,190.61 L262.0,190.97 L262.5,191.32 L263.0,191.67 L263.5,192.02 L264.0,192.37 L264.5,192.71 L265.0,193.06 L265.5,193.40 L266.0,193.75 L266.5,194.09 L267.0,194.43 L267.5,194.77 L268.0,195.11 L268.5,195.44 L269.0,195.78 L269.5,196.11 L270.0,196.44 L270.5,196.77 L271.0,197.10 L271.5,197.42 L272.0,197.74 L272.5,198.06 L273.0,198.38 L273.5,198.70 L274.0,199.02 L274.5,199.33 L275.0,199.64 L275.5,199.95 L276.0,200.25 L276.5,200.56 L277.0,200.86 L277.5,201.16 L278.0,201.45 L278.5,201.75 L279.0,202.04 L279.5,202.33 L280.0,202.62 L280.5,202.90 L281.0,203.18 L281.5,203.46 L282.0,203.74 L282.5,204.01 L283.0,204.28 L283.5,204.55 L284.0,204.82 L284.5,205.09 L285.0,205.35 L285.5,205.61 L286.0,205.86 L286.5,206.12 L287.0,206.37 L287.5,206.62 L288.0,206.86 L288.5,207.11 L289.0,207.35 L289.5,207.59 L290.0,207.82 L290.5,208.06 L291.0,208.29 L291.5,208.52 L292.0,208.74 L292.5,208.97 L293.0,209.19 L293.5,209.40 L294.0,209.62 L294.5,209.83 L295.0,210.04 L295.5,210.25 L296.0,210.46 L296.5,210.66 L297.0,210.86 L297.5,211.06 L298.0,211.26 L298.5,211.45 L299.0,211.64 L299.5,211.83 L300.0,212.01 L300.5,212.20 L301.0,212.38 L301.5,212.56 L302.0,212.74 L302.5,212.91 L303.0,213.08 L303.5,213.25 L304.0,213.42 L304.5,213.58 L305.0,213.75 L305.5,213.91 L306.0,214.07 L306.5,214.22 L307.0,214.38 L307.5,214.53 L308.0,214.68 L308.5,214.83 L309.0,214.97 L309.5,215.12 L310.0,215.26 L310.5,215.40 L311.0,215.54 L311.5,215.67 L312.0,215.81 L312.5,215.94 L313.0,216.07 L313.5,216.19 L314.0,216.32 L314.5,216.45 L315.0,216.57 L315.5,216.69 L316.0,216.81 L316.5,216.92 L317.0,217.04 L317.5,217.15 L318.0,217.26 L318.5,217.37 L319.0,217.48 L319.5,217.59 L320.0,217.69 L320.5,217.80 L321.0,217.90 L321.5,218.00 L322.0,218.10 L322.5,218.19 L323.0,218.29 L323.5,218.38 L324.0,218.47 L324.5,218.57 L325.0,218.65 L325.5,218.74 L326.0,218.83 L326.5,218.91 L327.0,219.00 L327.5,219.08 L328.0,219.16 L328.5,219.24 L329.0,219.32 L329.5,219.40 L330.0,219.47 L330.5,219.55 L331.0,219.62 L331.5,219.69 L332.0,219.76 L332.5,219.83 L333.0,219.90 L333.5,219.97 L334.0,220.03 L334.5,220.10 L335.0,220.16 L335.5,220.23 L336.0,220.29 L336.5,220.35 L337.0,220.41 L337.5,220.47 L338.0,220.52 L338.5,220.58 L339.0,220.64 L339.5,220.69 L340.0,220.74 L340.5,220.80 L341.0,220.85 L341.5,220.90 L342.0,220.95 L342.5,221.00 L343.0,221.05 L343.5,221.09 L344.0,221.14 L344.5,221.19 L345.0,221.23 L345.5,221.27 L346.0,221.32 L346.5,221.36 L347.0,221.40 L347.5,221.44 L348.0,221.48 L348.5,221.52 L349.0,221.56 L349.5,221.60 L350.0,221.64 L350.5,221.67 L351.0,221.71 L351.5,221.74 L352.0,221.78 L352.5,221.81 L353.0,221.85 L353.5,221.88 L354.0,221.91 L354.5,221.94 L355.0,221.97 L355.5,222.00 L356.0,222.03 L356.5,222.06 L357.0,222.09 L357.5,222.12 L358.0,222.15 L358.5,222.17 L359.0,222.20 L359.5,222.23 L360.0,222.25 L360.5,222.28 L361.0,222.30 L361.5,222.33 L362.0,222.35 L362.5,222.37 L363.0,222.40 L363.5,222.42 L364.0,222.44 L364.5,222.46 L365.0,222.48 L365.5,222.50 L366.0,222.52 L366.5,222.54 L367.0,222.56 L367.5,222.58 L368.0,222.60 L368.5,222.62 L369.0,222.64 L369.5,222.65 L370.0,222.67 L370.5,222.69 L371.0,222.71 L371.5,222.72 L372.0,222.74 L372.5,222.75 L373.0,222.77 L373.5,222.78 L374.0,222.80" stroke="#000000" stroke-width="3.7" fill="none" stroke-dasharray="0.8 4.3" stroke-linecap="round"/>
</g>
<rect x="1.5" y="0" width="371" height="232.5" fill="none" stroke="#000" stroke-width="0.72"/>
<g stroke="#000" stroke-width="0.85"><line x1="15.00" y1="232.5" x2="15.00" y2="240.2"/><line x1="64.14" y1="232.5" x2="64.14" y2="240.2"/><line x1="113.28" y1="232.5" x2="113.28" y2="240.2"/><line x1="162.42" y1="232.5" x2="162.42" y2="240.2"/><line x1="211.56" y1="232.5" x2="211.56" y2="240.2"/><line x1="260.70" y1="232.5" x2="260.70" y2="240.2"/><line x1="309.84" y1="232.5" x2="309.84" y2="240.2"/><line x1="358.98" y1="232.5" x2="358.98" y2="240.2"/></g>
<g><line x1="272.3" y1="24.65" x2="295.3" y2="24.65" stroke="#006400" stroke-width="1.15" stroke-linecap="round"/><line x1="272.3" y1="40.5" x2="295.3" y2="40.5" stroke="#0000ff" stroke-width="1.7" stroke-linecap="round"/><line x1="272.3" y1="56.0" x2="295.3" y2="56.0" stroke="#ff0000" stroke-width="2.45" stroke-linecap="round"/><line x1="272.3" y1="71.5" x2="295.3" y2="71.5" stroke="#000000" stroke-width="3.95" stroke-linecap="round"/></g>
<g style="filter:grayscale(1)"><text transform="translate(15.10 260.6) scale(1.15 1)" text-anchor="middle">0</text><text transform="translate(64.24 260.6) scale(1.15 1)" text-anchor="middle">1</text><text transform="translate(113.38 260.6) scale(1.15 1)" text-anchor="middle">2</text><text transform="translate(162.52 260.6) scale(1.15 1)" text-anchor="middle">3</text><text transform="translate(211.66 260.6) scale(1.15 1)" text-anchor="middle">4</text><text transform="translate(260.80 260.6) scale(1.15 1)" text-anchor="middle">5</text><text transform="translate(309.94 260.6) scale(1.15 1)" text-anchor="middle">6</text><text transform="translate(359.08 260.6) scale(1.15 1)" text-anchor="middle">7</text><text class="lg" transform="translate(308.4 29.4) scale(1.08 1.0)">d</text><text class="lg" transform="translate(320.6 30.599999999999998) scale(1.45 1)">=</text><text class="lg" transform="translate(337.3 29.4) scale(1.0 1)">12</text><text class="lg" transform="translate(308.4 44.9) scale(1.08 1.0)">d</text><text class="lg" transform="translate(320.6 46.1) scale(1.45 1)">=</text><text class="lg" transform="translate(337.3 44.9) scale(1.0 1)">16</text><text class="lg" transform="translate(308.4 60.7) scale(1.08 1.0)">d</text><text class="lg" transform="translate(320.6 61.900000000000006) scale(1.45 1)">=</text><text class="lg" transform="translate(337.3 60.7) scale(1.0 1)">20</text><text class="lg" transform="translate(308.4 76.0) scale(1.08 1.0)">d</text><text class="lg" transform="translate(320.6 77.2) scale(1.45 1)">=</text><text class="lg" transform="translate(337.3 76.0) scale(1.0 1)">24</text></g>
</svg>
</body></html>
